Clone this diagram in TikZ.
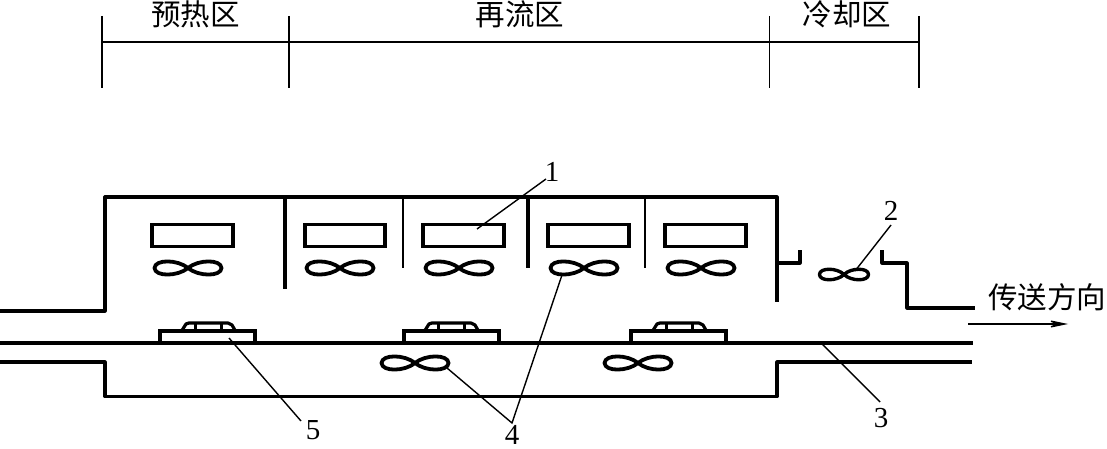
\documentclass[tikz,border=0pt]{standalone}
\usepackage{fontspec}
\setmainfont{Liberation Serif}
\newfontfamily\cjk{Noto Sans CJK SC}
\usetikzlibrary{arrows.meta}
\tikzset{
  wall/.style={line width=3.2pt,line join=round},
  scale line/.style={line width=1.5pt},
  leader/.style={line width=1.4pt},
  heater/.style={draw,line width=3.8pt,minimum width=80.5pt,minimum height=22pt,inner sep=0pt},
  board/.style={draw,line width=3.2pt,minimum width=95pt,minimum height=12pt,inner sep=0pt},
  zh/.style={font=\cjk\fontsize{29.5}{30}\selectfont,inner sep=0pt},
  num/.style={font=\fontsize{29}{29}\selectfont,inner sep=0pt},
  pics/fan/.style={code={
    \draw[line width=3.8pt,line join=round]
      (0,0) .. controls (-10,-8.5) and (-33,-9) .. (-33.5,0)
      .. controls (-33,9) and (-10,8.5) .. (0,0)
      .. controls (10,-8.5) and (33,-9) .. (33.5,0)
      .. controls (33,9) and (10,8.5) .. (0,0) -- cycle;
  }},
  pics/smallfan/.style={code={
    \draw[line width=3.4pt,line join=round]
      (0,0) .. controls (-7,-7) and (-24.5,-7) .. (-24.5,0)
      .. controls (-24.5,7) and (-7,7) .. (0,0)
      .. controls (7,-7) and (24.5,-7) .. (24.5,0)
      .. controls (24.5,7) and (7,7) .. (0,0) -- cycle;
  }},
  pics/part/.style={code={
    \draw[line width=3.2pt,line join=round]
      (-27,9) -- (-22,1) -- (-19,0) -- (20,0) -- (24,2) -- (28,9);
    \draw[line width=3pt] (-13,0) -- (-13,9) (13,0) -- (13,9);
  }}
}
\begin{document}
\begin{tikzpicture}[x=1pt,y=-1pt]
\useasboundingbox (0,0) rectangle (1107,449);
% zone scale
\coordinate (s1t) at (102,16); \coordinate (s1b) at (102,88);
\coordinate (s2t) at (289,16); \coordinate (s2b) at (289,88);
\coordinate (s3t) at (769,16); \coordinate (s3b) at (769,88);
\coordinate (s4t) at (919,16); \coordinate (s4b) at (919,88);
\coordinate (sl) at (102,42); \coordinate (sr) at (919,42);
\draw[scale line] (s1t) -- (s1b);
\draw[scale line] (s2t) -- (s2b);
\draw[line width=1pt] (s3t) -- (s3b);
\draw[scale line] (s4t) -- (s4b);
\draw[scale line] (sl) -- (sr);
\node[zh] (z1) at (195.5,14) {预热区};
\node[zh] (z2) at (520,14) {再流区};
\node[zh] (z3) at (847,14) {冷却区};
% housing
\draw[wall] (0,311) -- (105,311) -- (105,197) -- (777,197) -- (777,302);
\draw[wall] (777,263) -- (800,263) -- (800,250);
\draw[wall] (882,250) -- (882,263) -- (907,263) -- (907,308) -- (975,308);
\draw[wall] (0,362) -- (105,362) -- (105,396.5) -- (777,396.5) -- (777,362) -- (972,362);
\draw[line width=3.6pt] (0,343) -- (973,343);
% partitions
\draw[wall] (285,197) -- (285,289);
\draw[line width=2.6pt] (403,197) -- (403,268);
\draw[wall] (528,197) -- (528,268);
\draw[line width=2.6pt] (645,197) -- (645,268);
% heaters
\node[heater] (h1) at (192.5,235.5) {};
\node[heater] (h2) at (345,235.5) {};
\node[heater] (h3) at (463.5,235.5) {};
\node[heater] (h4) at (588.5,235.5) {};
\node[heater] (h5) at (705.5,235.5) {};
% fans
\pic at (188,268) {fan};
\pic at (340,268) {fan};
\pic at (459,268) {fan};
\pic at (584,268) {fan};
\pic at (701,268) {fan};
\pic at (415,363) {fan};
\pic at (638,363) {fan};
\pic at (844,274.5) {smallfan};
% boards
\node[board] (b1) at (207.5,337) {};
\node[board] (b2) at (451.5,337) {};
\node[board] (b3) at (678.5,337) {};
\pic at (208,323) {part};
\pic at (451,323) {part};
\pic at (679,323) {part};
% leaders
\node[num] (n1) at (552,172) {1};
\node[num] (n2) at (891,211) {2};
\node[num] (n3) at (881,418) {3};
\node[num] (n4) at (512,435) {4};
\node[num] (n5) at (313,430) {5};
\coordinate (l1a) at (477,229); \coordinate (l1b) at (546,179);
\coordinate (l2a) at (855,271); \coordinate (l2b) at (891,225);
\coordinate (l3a) at (822,344); \coordinate (l3b) at (880,402);
\coordinate (l4) at (512,423);
\coordinate (l4a) at (447,368); \coordinate (l4b) at (562,275);
\coordinate (l5a) at (229,338); \coordinate (l5b) at (301,421);
\draw[leader] (l1a) -- (l1b);
\draw[leader] (l2a) -- (l2b);
\draw[leader] (l3a) -- (l3b);
\draw[leader] (l4a) -- (l4) -- (l4b);
\draw[leader] (l5a) -- (l5b);
% conveying direction
\node[zh,anchor=west] (dir) at (988,297) {传送方向};
\coordinate (a1) at (968,324); \coordinate (a2) at (1068,324);
\draw[line width=1.4pt,-{Stealth[length=24pt,width=10pt,inset=12pt]}] (a1) -- (a2);
\end{tikzpicture}
\end{document}
